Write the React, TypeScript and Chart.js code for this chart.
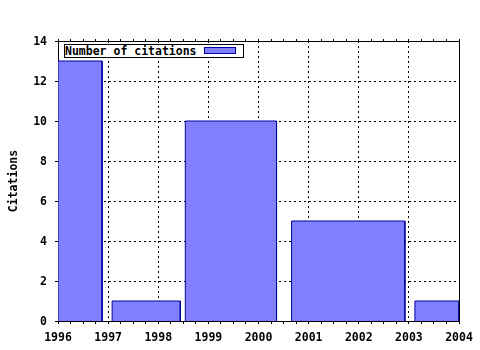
import React, { useEffect, useRef } from "react";
import { Chart, registerables } from "chart.js";

Chart.register(...registerables);

// Data
const barStarts = [1996.0, 1997.08, 1998.54, 2000.66, 2003.12];
const barEnds = [1996.88, 1998.44, 2000.36, 2002.92, 2004.0];
const citations = [13, 1, 10, 5, 1];
const yearTicks = [1996, 1997, 1998, 1999, 2000, 2001, 2002, 2003, 2004];
const citationTicks = [0, 2, 4, 6, 8, 10, 12, 14];
const seriesLabel = "Number of citations";
const yTitle = "Citations";

const FONT = "'DejaVu Sans Mono', 'Liberation Mono', monospace";
const FILL = "#8080ff";
const EDGE = "#0000a0";

export default function App() {
  const canvasRef = useRef<HTMLCanvasElement | null>(null);

  useEffect(() => {
    document.body.style.margin = "0";
    const canvas = canvasRef.current;
    if (!canvas) return;

    // minor ticks every quarter year between the major year ticks
    const xTickValues: number[] = [];
    for (let i = 0; i < yearTicks.length - 1; i++) {
      for (let q = 0; q < 4; q++) xTickValues.push(yearTicks[i] + q * 0.25);
    }
    xTickValues.push(yearTicks[yearTicks.length - 1]);
    const xMin = yearTicks[0];
    const xMax = yearTicks[yearTicks.length - 1];
    const yMin = citationTicks[0];
    const yMax = citationTicks[citationTicks.length - 1];

    const datasets = citations.map((v, i) => ({
      label: seriesLabel,
      data: [
        { x: barStarts[i], y: 0 },
        { x: barStarts[i], y: v },
        { x: barEnds[i], y: v },
        { x: barEnds[i], y: 0 },
      ],
      backgroundColor: FILL,
      borderColor: EDGE,
      borderWidth: 1,
      fill: "origin",
      pointRadius: 0,
      tension: 0,
    }));

    const font = { family: FONT, size: 11.5, weight: "bold" as const };
    const isInteriorYear = (v: number) => Number.isInteger(v) && v > xMin && v < xMax;

    const chart = new Chart(canvas, {
      type: "line",
      data: { datasets },
      options: {
        animation: false,
        responsive: false,
        layout: { padding: 0 },
        plugins: { legend: { display: false }, tooltip: { enabled: false } },
        scales: {
          x: {
            type: "linear",
            position: "bottom",
            min: xMin,
            max: xMax,
            afterBuildTicks: (s: any) => {
              s.ticks = xTickValues.map((v) => ({ value: v }));
            },
            afterFit: (s: any) => {
              s.height = 29;
            },
            ticks: {
              autoSkip: false,
              maxRotation: 0,
              padding: 7,
              color: "#000",
              font,
              callback: (v: any) => (Number.isInteger(Number(v)) ? String(v) : ""),
            },
            grid: {
              color: (c: any) => (c.tick && isInteriorYear(c.tick.value) ? "#000" : "rgba(0,0,0,0)"),
              tickColor: "#000",
              tickLength: 3,
              lineWidth: 1,
            },
            border: { color: "#000", width: 1, dash: [2, 3] },
          },
          x2: {
            type: "linear",
            position: "top",
            display: true,
            min: xMin,
            max: xMax,
            afterBuildTicks: (s: any) => {
              s.ticks = xTickValues.map((v) => ({ value: v }));
            },
            afterFit: (s: any) => {
              s.height = 41;
            },
            ticks: { display: false },
            grid: { drawOnChartArea: false, tickColor: "#000", tickLength: 2 },
            border: { color: "#000", width: 1 },
          },
          y: {
            type: "linear",
            position: "left",
            min: yMin,
            max: yMax,
            afterBuildTicks: (s: any) => {
              s.ticks = citationTicks.map((v) => ({ value: v }));
            },
            afterFit: (s: any) => {
              s.width = 58;
            },
            ticks: { padding: 8, color: "#000", font, labelOffset: 1.5 },
            title: {
              display: true,
              text: yTitle,
              color: "#000",
              font,
              padding: { top: 7, bottom: 0 },
            },
            grid: {
              color: (c: any) =>
                c.tick && c.tick.value > yMin && c.tick.value < yMax ? "#000" : "rgba(0,0,0,0)",
              tickColor: "#000",
              tickLength: 3,
              lineWidth: 1,
            },
            border: { color: "#000", width: 1, dash: [2, 3] },
          },
          y2: {
            type: "linear",
            position: "right",
            display: true,
            min: yMin,
            max: yMax,
            afterFit: (s: any) => {
              s.width = 21;
            },
            ticks: { display: false },
            grid: { drawOnChartArea: false, drawTicks: false },
            border: { color: "#000", width: 1 },
          },
        },
      },
    } as any);

    return () => chart.destroy();
  }, []);

  return (
    <div style={{ position: "relative", width: 480, height: 350, background: "#fff" }}>
      <canvas ref={canvasRef} width={480} height={350} style={{ display: "block" }} />
      <div
        style={{
          position: "absolute",
          left: 64,
          top: 44,
          width: 180,
          height: 14,
          boxSizing: "border-box",
          border: "1px solid #000",
          background: "#fff",
        }}
      />
      <span
        style={{
          position: "absolute",
          left: 65,
          top: 45,
          fontFamily: FONT,
          fontWeight: "bold",
          fontSize: "11.5px",
          lineHeight: "12px",
          color: "#000",
          whiteSpace: "nowrap",
        }}
      >
        {seriesLabel}
      </span>
      <div
        style={{
          position: "absolute",
          left: 204,
          top: 47,
          width: 32,
          height: 7,
          boxSizing: "border-box",
          background: FILL,
          border: `1px solid ${EDGE}`,
        }}
      />
    </div>
  );
}
